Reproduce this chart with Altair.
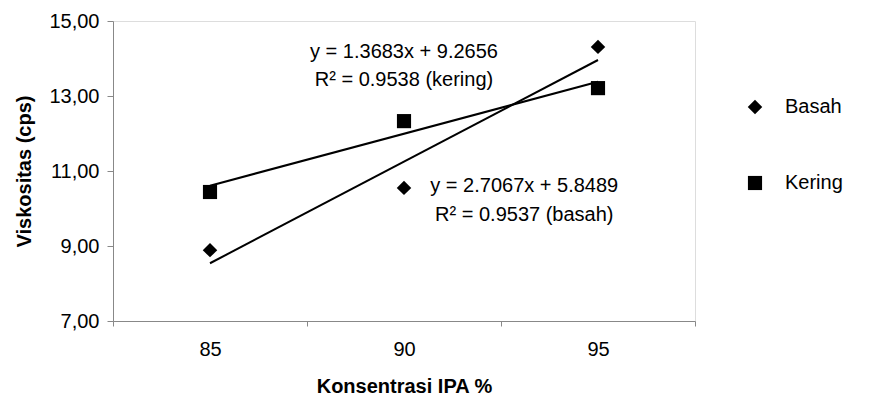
import altair as alt
import pandas as pd

# ---- data ----
konsentrasi = [85, 90, 95]
basah = [8.89, 10.55, 14.31]
kering = [10.44, 12.33, 13.21]
series_names = ["Basah", "Kering"]

x_tick_values = [82.5, 87.5, 92.5, 97.5]
y_tick_values = [7, 9, 11, 13, 15]

ann_text = ["y = 1.3683x + 9.2656", "R\u00b2 = 0.9538 (kering)",
            "y = 2.7067x + 5.8489", "R\u00b2 = 0.9537 (basah)"]
ann_x = [90.0, 90.0, 93.1, 93.1]
ann_y = [14.17, 13.43, 10.6, 9.83]

# ---- tables ----
rows = []
for k, b in zip(konsentrasi, basah):
    rows.append({"x": k, "y": b, "series": "Basah"})
for k, v in zip(konsentrasi, kering):
    rows.append({"x": k, "y": v, "series": "Kering"})
df = pd.DataFrame(rows)
ann = pd.DataFrame({"x": ann_x, "y": ann_y, "t": ann_text})

FONT = "Liberation Sans"
FS = 20

xscale = alt.Scale(domain=[82.5, 97.5], nice=False, zero=False)
yscale = alt.Scale(domain=[7, 15], nice=False, zero=False)

xaxis = alt.Axis(
    values=x_tick_values,
    labelExpr="datum.value < 95 ? format(datum.value + 2.5, 'd') : ''",
    labelOffset=97, labelFlush=False, labelOverlap=False,
    labelFont=FONT, labelFontSize=FS, labelColor="black",
    title="Konsentrasi IPA %", titleFont=FONT, titleFontWeight="bold", titleFontSize=FS,
    titleColor="black", titlePadding=17, labelPadding=13, tickSize=5, grid=False,
)
yaxis = alt.Axis(
    values=y_tick_values,
    labelExpr="replace(format(datum.value, '.2f'), '.', ',')",
    labelFont=FONT, labelFontSize=FS, labelColor="black",
    title="Viskositas (cps)", titleFont=FONT, titleFontWeight="bold", titleFontSize=FS,
    titleColor="black", titlePadding=14, labelPadding=8, tickSize=6, grid=False,
)

base = alt.Chart(df)

points = base.mark_point(filled=True, color="black", opacity=1).encode(
    x=alt.X("x:Q", scale=xscale, axis=xaxis),
    y=alt.Y("y:Q", scale=yscale, axis=yaxis),
    shape=alt.Shape("series:N", scale=alt.Scale(domain=series_names, range=["diamond", "square"]),
                    legend=alt.Legend(title=None, orient="none", legendX=632, legendY=76,
                                      labelFontSize=FS, labelFont=FONT, labelColor="black",
                                      rowPadding=56,
                                      symbolFillColor="black", symbolStrokeColor="black",
                                      symbolStrokeWidth=0, labelOffset=20)),
    size=alt.Size("series:N", scale=alt.Scale(domain=series_names, range=[210, 200])),
)

lines = base.transform_regression("x", "y", groupby=["series"]).mark_line(
    color="black", strokeWidth=2
).encode(
    x=alt.X("x:Q", scale=xscale),
    y=alt.Y("y:Q", scale=yscale),
    detail="series:N",
)

texts = alt.Chart(ann).mark_text(font=FONT, fontSize=FS, color="black", align="center", baseline="middle").encode(
    x=alt.X("x:Q", scale=xscale),
    y=alt.Y("y:Q", scale=yscale),
    text="t:N",
)

chart = alt.layer(lines, points, texts).properties(
    width=582, height=300,
    autosize=alt.AutoSizeParams(type="none"),
    padding={"left": 105, "top": 13, "right": 166, "bottom": 76},
).configure_view(stroke="#808080", strokeWidth=2).configure_axis(
    domainColor="black", tickColor="black", domainWidth=1.5, tickWidth=1.5,
).configure(background="white")

chart.save("out.html", embed_options={"renderer": "svg", "actions": False})
